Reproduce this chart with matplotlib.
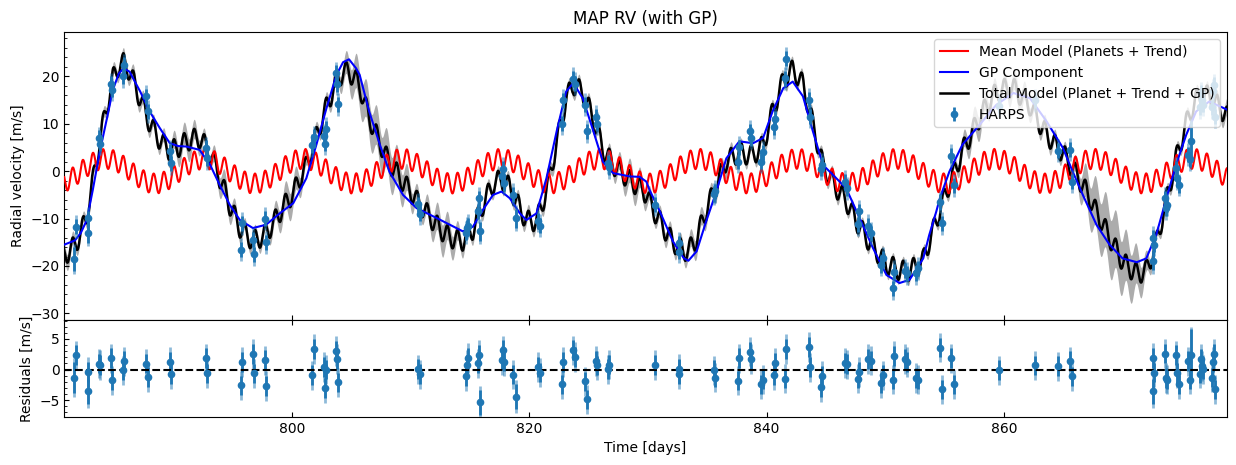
import numpy as np
import matplotlib.pyplot as plt
from matplotlib.ticker import AutoMinorLocator

# HARPS observations: time [days], RV [m/s], residual [m/s], error [m/s]
time = np.array([
    781.62, 781.75, 782.78, 782.82, 783.70, 783.77, 784.72, 784.83, 785.76, 785.84,
    787.67, 787.84, 789.72, 789.80, 792.73, 792.81, 795.68, 795.76, 796.69, 796.77,
    797.72, 797.81, 801.66, 801.86, 802.67, 802.78, 802.90, 803.71, 803.77, 803.85,
    810.65, 810.76, 814.70, 814.75, 814.83, 815.67, 815.76, 815.84, 817.73, 817.78,
    817.87, 818.62, 818.85, 820.73, 820.90, 822.75, 822.84, 823.68, 823.82, 824.69,
    824.86, 825.65, 825.72, 826.60, 826.69, 830.59, 832.58, 832.64, 835.56, 835.68,
    837.58, 837.67, 838.57, 838.65, 839.55, 839.69, 840.62, 840.70, 841.58, 841.60,
    843.57, 843.65, 844.58, 844.64, 846.57, 846.77, 847.70, 847.78, 848.57, 848.79,
    849.61, 849.80, 850.65, 850.73, 851.63, 851.80, 852.56, 852.75, 854.58, 854.77,
    855.53, 855.76, 859.58, 862.61, 864.52, 865.53, 865.73, 872.53, 872.59, 872.61,
    873.57, 873.68, 873.77, 874.53, 874.56, 874.72, 875.54, 875.65, 875.73, 876.49,
    876.60, 876.72, 876.80, 877.56, 877.60, 877.67, 877.78,
])
rv = np.array([
    -18.5, -11.7, -13.1, -9.9, 7.0, 5.8, 18.4, 17.2, 20.0, 22.4,
    15.8, 12.6, 4.2, 1.7, 4.9, 2.7, -16.6, -11.0, -14.5, -17.5,
    -10.0, -15.0, 5.5, 7.2, 7.5, 5.8, 9.0, 20.7, 18.4, 14.1,
    -7.0, -9.0, -13.0, -12.0, -11.5, -8.5, -5.7, -12.7, -1.0, 0.5,
    -2.5, -5.0, -9.9, -10.5, -11.5, 10.0, 15.0, 19.5, 18.5, 14.0,
    8.4, 11.5, 10.0, 1.8, 0.8, -7.1, -15.2, -17.0, -4.8, -4.2,
    2.0, 5.0, 8.4, 7.0, 2.0, 4.0, 9.3, 11.0, 19.6, 23.7,
    15.1, 11.5, 0.5, 1.4, -2.2, -3.6, -11.2, -8.5, -11.5, -13.1,
    -19.8, -18.4, -24.7, -21.2, -21.0, -21.5, -21.5, -20.5, -6.5, -11.0,
    3.3, -3.0, 13.8, 15.0, 4.3, 4.5, -2.2, -14.0, -18.9, -15.5,
    -5.7, -7.8, -7.1, 0.6, -1.5, -2.9, 3.5, 2.5, 6.3, 13.5,
    16.5, 15.0, 14.0, 13.5, 17.0, 18.2, 11.5,
])
resid = np.array([
    -1.31, 2.34, -3.56, -0.39, 0.98, 0.75, 1.85, -1.75, -0.11, 1.36,
    0.98, -1.26, 1.20, -0.72, 1.85, -0.61, -2.57, 1.20, 2.51, -0.61,
    1.52, -2.68, -0.93, 3.38, 0.43, -3.00, 0.00, 3.00, 1.69, -2.08,
    0.05, -0.77, -1.10, 0.82, 1.90, 1.03, 2.40, -5.36, 1.52, 3.16,
    1.31, -0.82, -4.43, 0.43, -0.49, -2.41, 1.20, 3.16, 2.07, -1.92,
    -4.87, 1.40, 0.70, 0.05, 0.82, 0.76, 0.16, -0.77, -0.11, -1.31,
    -1.80, 1.85, 2.95, 1.69, -2.41, -1.64, -0.93, 1.15, -1.48, 3.33,
    3.66, 0.38, -2.90, -0.98, 1.08, 0.87, -1.48, -0.39, 1.69, 1.47,
    -2.25, -0.93, -1.64, 2.18, 1.69, 1.25, -1.37, -1.64, 3.60, -3.23,
    1.85, -2.41, -0.11, 0.70, 0.54, 1.36, -1.10, 1.90, -3.56, -0.49,
    2.62, -1.37, -1.64, 2.34, -0.55, -2.41, 1.36, -1.64, 2.34, -0.66,
    1.69, 0.60, 0.05, -1.31, 1.25, 2.51, -3.23,
])
rv_err = np.full(time.size, 1.6)
rv_err[[0, 2, 37, 42, 98]] = [2.6, 2.0, 2.0, 2.0, 2.0]
rv_err[108] = 4.3
jitter = 1.8

# MAP planet parameters (mean model)
period = [0.8536, 8.33]
semi_amp = [2.1, 2.6]
t_peak = [784.07, 784.3]

# GP prediction
gp_time = [
    780.8, 781.7, 782.2, 782.7, 783.2, 783.8, 784.4, 784.9, 785.4, 785.8,
    786.3, 787.2, 788.0, 788.85, 789.7, 790.4, 791.1, 792.2, 793.1, 793.9,
    794.75, 795.6, 796.7, 797.8, 798.96, 800.1, 801.2, 802.05, 802.9, 803.74,
    804.3, 804.8, 805.4, 805.7, 806.5, 807.4, 808.2, 809.35, 810.5, 812.2,
    813.3, 814.4, 815.25, 816.1, 816.94, 817.65, 818.35, 819.2, 819.75, 820.6,
    821.44, 822.3, 823.1, 823.7, 824.5, 825.4, 826.2, 827.05, 828.46, 829.3,
    829.86, 830.14, 831.0, 832.1, 833.0, 833.4, 834.1, 834.9, 835.76, 836.6,
    837.7, 838.85, 839.7, 840.5, 841.4, 842.2, 843.06, 843.9, 844.75, 845.6,
    846.7, 847.84, 848.96, 850.1, 851.2, 852.05, 853.2, 853.7, 854.3, 854.6,
    855.4, 856.5, 857.95, 859.36, 860.8, 862.2, 863.6, 864.97, 865.8, 866.65,
    867.8, 868.9, 870.0, 871.2, 872.0, 872.84, 873.7, 874.5, 875.37, 876.2,
    877.3, 878.8,
]
gp_mu = [
    -15.5, -14.6, -13.0, -10.3, -4.0, 4.2, 11.2, 17.2, 20.6, 21.7,
    21.0, 16.8, 12.6, 9.1, 5.9, 5.3, 5.2, 4.5, 1.3, -2.9,
    -7.1, -10.3, -12.0, -11.3, -8.9, -6.75, -1.5, 5.6, 13.3, 20.3,
    23.0, 23.6, 21.7, 20.3, 12.6, 5.6, -0.1, -5.0, -7.8, -9.9,
    -11.3, -12.7, -11.7, -8.1, -5.0, -4.3, -5.7, -8.9, -10.3, -8.9,
    -1.5, 8.4, 16.8, 18.6, 15.4, 8.4, 2.0, -0.4, -1.1, -1.2,
    -2.2, -4.0, -8.5, -14.8, -18.3, -18.9, -16.9, -10.6, -4.3, 2.7,
    6.3, 5.9, 7.0, 12.6, 17.5, 18.9, 15.8, 8.4, 1.3, -0.8,
    -3.6, -9.9, -16.2, -21.9, -23.6, -22.9, -18.4, -13.5, -8.5, -5.7,
    -0.1, 5.6, 9.8, 14.0, 16.5, 15.4, 10.5, 4.9, -0.1, -5.0,
    -11.3, -15.5, -18.4, -19.2, -18.4, -13.4, -5.7, 1.3, 7.7, 12.6,
    14.7, 13.0,
]

# predictive std of the total model
sd_time = [780.8, 782.0, 784.0, 786.0, 786.9, 788.7, 791.2, 792.7, 794.2, 795.7,
           796.7, 797.8, 799.7, 801.7, 803.8, 805.5, 807.2, 809.0, 810.7, 812.7,
           814.7, 816.5, 818.9, 819.8, 820.8, 821.8, 822.8, 826.6, 828.6, 830.6,
           831.6, 832.6, 834.1, 835.6, 836.6, 837.6, 844.6, 845.6, 846.6, 855.7,
           857.7, 859.6, 861.1, 862.6, 863.6, 864.5, 865.7, 867.5, 869.1, 870.8,
           872.5, 878.0, 878.8]
sd_val = [1.8, 1.1, 1.2, 1.2, 1.5, 1.2, 2.5, 1.2, 2.4, 1.2,
          1.2, 1.2, 3.0, 1.2, 1.3, 3.8, 4.2, 3.8, 1.3, 3.4,
          1.2, 1.1, 1.1, 1.4, 1.1, 1.4, 1.1, 1.1, 2.7, 1.1,
          1.6, 1.1, 2.2, 1.1, 1.5, 1.0, 1.0, 1.3, 0.9, 1.0,
          2.7, 1.2, 2.4, 1.2, 1.5, 1.1, 1.1, 5.0, 6.3, 5.0,
          1.0, 1.0, 1.8]

t_grid = np.linspace(780.8, 878.8, 4000)
mean_model = np.zeros_like(t_grid)
for P, K, tp in zip(period, semi_amp, t_peak):
    mean_model += K * np.cos(2 * np.pi * (t_grid - tp) / P)
total = mean_model + np.interp(t_grid, gp_time, gp_mu)
sd = np.interp(t_grid, sd_time, sd_val)

fig = plt.figure(figsize=(12.36, 4.65), dpi=100)
ax1 = fig.add_axes([0.052, 0.3118, 0.9407, 0.6187])
ax2 = fig.add_axes([0.052, 0.1039, 0.9407, 0.2079], sharex=ax1)

ax1.fill_between(t_grid, total - sd, total + sd, color="gray", alpha=0.65,
                 lw=0, zorder=1)
ax1.plot(t_grid, mean_model, color="red", lw=1.5, zorder=3,
         label="Mean Model (Planets + Trend)")
ax1.plot(gp_time, gp_mu, color="blue", lw=1.5, zorder=4, label="GP Component")
ax1.plot(t_grid, total, color="black", lw=1.8, zorder=2,
         label="Total Model (Planet + Trend + GP)")

full_err = np.sqrt(rv_err**2 + jitter**2)
ax1.errorbar(time, rv, yerr=full_err, fmt="none", ecolor="C0", alpha=0.5,
             elinewidth=2, zorder=5)
ax1.errorbar(time, rv, yerr=rv_err, fmt="o", color="C0", ms=4.5,
             elinewidth=2, zorder=6, label="HARPS")

ax1.set_ylabel("Radial velocity [m/s]")
ax1.set_title("MAP RV (with GP)")
leg = ax1.legend(loc="upper right")
leg.set_zorder(10)
ax1.set_xlim(780.8, 878.8)
ax1.set_ylim(-31.4, 29.3)
ax1.yaxis.set_minor_locator(AutoMinorLocator())
ax1.tick_params(which="both", direction="in")
ax1.tick_params(axis="x", labelbottom=False)

ax2.errorbar(time, resid, yerr=full_err, fmt="none", ecolor="C0", alpha=0.5,
             elinewidth=2)
ax2.errorbar(time, resid, yerr=rv_err, fmt="o", color="C0", ms=4.5,
             elinewidth=2)
ax2.axhline(0, color="k", ls="--", lw=1.5)
ax2.set_ylim(-7.7, 8.1)
ax2.set_xlabel("Time [days]")
ax2.set_ylabel("Residuals [m/s]")
ax2.yaxis.set_minor_locator(AutoMinorLocator())
ax2.tick_params(which="both", direction="in")
ax2.tick_params(axis="x", top=True)

fig.savefig("out.png", dpi=100)
